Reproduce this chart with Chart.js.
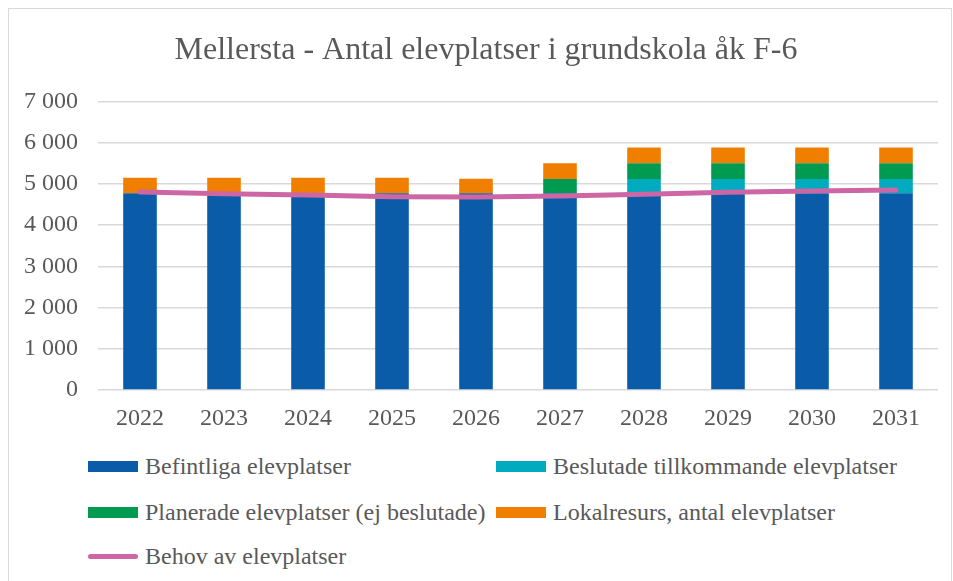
<!DOCTYPE html>
<html>
<head>
<meta charset="utf-8">
<script src="https://cdn.jsdelivr.net/npm/chart.js@4/dist/chart.umd.min.js"></script>
<style>
  body { margin: 0; background: #fff; }
  #frame { position: absolute; left: 8px; top: 8px; width: 942px; height: 580px; border: 1px solid #d9d9d9; border-bottom: none; }
  #wrap { position: absolute; left: 0; top: 0; width: 953px; height: 440px; }
  #legend { position: absolute; left: 0; top: 0; font-family: 'Liberation Serif', 'Times New Roman', serif; font-size: 24px; color: #595959; }
  .item { position: absolute; display: flex; align-items: center; white-space: nowrap; }
  .sw { width: 50px; height: 11px; margin-right: 7px; }
  .ln { width: 50px; height: 5px; border-radius: 3px; margin-right: 7px; }
</style>
</head>
<body>
<div id="frame"></div>
<div id="wrap"><canvas id="chart"></canvas></div>
<div id="legend"></div>
<script>
const years = ['2022', '2023', '2024', '2025', '2026', '2027', '2028', '2029', '2030', '2031']
const befintliga = [4770, 4770, 4770, 4770, 4770, 4770, 4770, 4770, 4770, 4770]
const beslutade = [0, 0, 0, 0, 0, 0, 350, 350, 350, 350]
const planerade = [0, 0, 0, 0, 0, 350, 380, 380, 380, 380]
const lokalresurs = [380, 380, 380, 380, 355, 380, 380, 380, 380, 380]
const behov = [4800, 4760, 4730, 4690, 4680, 4705, 4745, 4795, 4825, 4850]

const serif = "'Liberation Serif', 'Times New Roman', serif"
const grey = '#595959'

const ctx = document.getElementById('chart').getContext('2d')

const bar = (label, data, color) => ({
  type: 'bar',
  label,
  data,
  backgroundColor: color,
  stack: 'platser',
  order: 2,
  barPercentage: 0.4,
  categoryPercentage: 1,
})

// the original title sits a bit right of the canvas centre
const shiftTitle = {
  id: 'shiftTitle',
  afterLayout: chart => {
    if (chart.titleBlock) chart.titleBlock.left += 34
  },
}

const chart = new Chart(ctx, {
  type: 'bar',
  data: {
    labels: years,
    datasets: [
      bar('Befintliga elevplatser', befintliga, '#0a5ca8'),
      bar('Beslutade tillkommande elevplatser', beslutade, '#00abc0'),
      bar('Planerade elevplatser (ej beslutade)', planerade, '#009b50'),
      bar('Lokalresurs, antal elevplatser', lokalresurs, '#f07f00'),
      {
        type: 'line',
        label: 'Behov av elevplatser',
        data: behov,
        borderColor: '#cc66a4',
        backgroundColor: '#cc66a4',
        borderWidth: 5,
        borderCapStyle: 'round',
        pointRadius: 0,
        tension: 0,
        stack: 'behov',
        order: 1,
      },
    ],
  },
  plugins: [shiftTitle],
  options: {
    responsive: true,
    maintainAspectRatio: false,
    animation: false,
    layout: { padding: { left: 0, right: 15, top: 0, bottom: 0 } },
    plugins: {
      legend: { display: false },
      tooltip: { enabled: false },
      title: {
        display: true,
        text: 'Mellersta - Antal elevplatser i grundskola åk F-6',
        color: grey,
        font: { family: serif, size: 32, weight: 'normal' },
        padding: { top: 31, bottom: 32 },
      },
    },
    scales: {
      x: {
        stacked: true,
        grid: { display: false, drawTicks: false },
        border: { display: false },
        ticks: { color: grey, font: { family: serif, size: 24 }, padding: 14 },
        afterFit: scale => { scale.height = 50 },
      },
      y: {
        stacked: true,
        min: 0,
        max: 7000,
        grid: { color: '#d9d9d9', lineWidth: 1.5, drawTicks: false },
        border: { display: false },
        ticks: {
          stepSize: 1000,
          color: grey,
          padding: 20,
          font: { family: serif, size: 24 },
          callback: v => String(v).replace(/\B(?=(\d{3})+(?!\d))/g, ' '),
        },
        afterFit: scale => { scale.width = 98 },
      },
    },
  },
})

// legend in two columns, built from the datasets
const legend = document.getElementById('legend')
const spots = [[88, 466], [496, 466], [88, 512], [496, 512], [88, 556]]
chart.data.datasets.forEach((ds, i) => {
  const [x, y] = spots[i]
  const el = document.createElement('div')
  el.className = 'item'
  el.style.left = x + 'px'
  el.style.top = (y - 14) + 'px'
  el.style.height = '28px'
  const sw = document.createElement('span')
  sw.className = ds.type === 'line' ? 'ln' : 'sw'
  sw.style.background = ds.type === 'line' ? ds.borderColor : ds.backgroundColor
  el.appendChild(sw)
  el.appendChild(document.createTextNode(ds.label))
  legend.appendChild(el)
})
</script>
</body>
</html>
